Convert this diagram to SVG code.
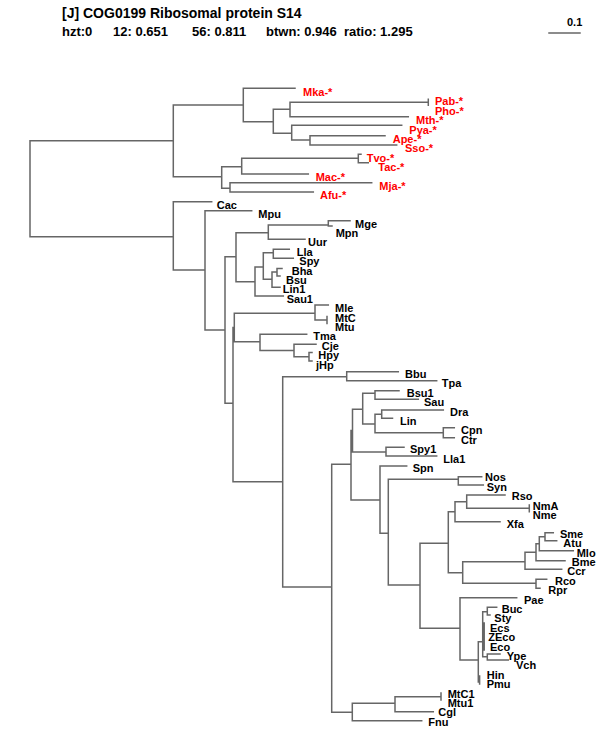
<svg xmlns="http://www.w3.org/2000/svg" width="600" height="750" viewBox="0 0 600 750">
<style>
.e{stroke:#666;stroke-width:1.5;fill:none;stroke-linecap:square}
.t{font-family:"Liberation Sans",Arial,sans-serif;font-weight:bold;fill:#000}
.l{font-family:"Liberation Sans",Arial,sans-serif;font-weight:bold;font-size:11px;fill:#000}
.r{fill:#f00}
</style>
<rect width="600" height="750" fill="#fff"/>
<g id="header">
<text class="t" x="62" y="18" font-size="14">[J] COG0199 Ribosomal protein S14</text>
<text class="t" x="62" y="36" font-size="13">hzt:0</text>
<text class="t" x="113" y="36" font-size="13">12: 0.651</text>
<text class="t" x="192" y="36" font-size="13">56: 0.811</text>
<text class="t" x="266" y="36" font-size="13">btwn: 0.946</text>
<text class="t" x="344" y="36" font-size="13">ratio: 1.295</text>
</g>
<g id="scale">
<path class="e" d="M549 33 H580" stroke="#000"/>
<text class="l" x="567" y="26">0.1</text>
</g>
<g id="connectors">
<path class="e" d="
M30 140.7 V236.7 M30 140.7 H173.3 M30 236.7 H173.3
M173.3 105 V176.7 M173.3 105 H243.3 M173.3 176.7 H221.7
M243.3 88.3 V121.7 M243.3 88.3 H295 M243.3 121.7 H273.3
M273.3 109.3 V133.3 M273.3 109.3 H290 M273.3 133.3 H291.7
M290 102.3 V116.7 M290 102.3 H428.3 M428.3 99.3 V105.3 M290 116.7 H408.3
M291.7 125.3 V140 M291.7 125.3 H401.7 M291.7 140 H310
M310 135.7 V145 M310 135.7 H385 M310 145 H396.7
M221.7 166.7 V188.3 M221.7 166.7 H241.7 M221.7 188.3 H230
M241.7 158.3 V174 M241.7 158.3 H358.3 M241.7 174 H308.3
M358.3 154.3 V162.7 M358.3 154.3 H361 M358.3 162.7 H368.3
M230 182.7 V192 M230 182.7 H371.7 M230 192 H313.3
M173.3 201.7 V270 M173.3 201.7 H211.7 M173.3 270 H205
M205 210.7 V330 M205 210.7 H251.7 M205 330 H225
M225 256.7 V403.3 M225 256.7 H236 M225 403.3 H233
M236 232.7 V281.7 M236 232.7 H268.3 M236 281.7 H255
M268.3 225 V239.3 M268.3 225 H328.3 M268.3 239.3 H305
M328.3 220.7 V226 M328.3 220.7 H350 M328.3 226 H332
M255 267 V296 M255 267 H263.3 M255 296 H283.3
M263.3 252.7 V279.3 M263.3 252.7 H273.3 M263.3 279.3 H272
M273.3 249.3 V258.3 M273.3 249.3 H289.3 M273.3 258.3 H293.3
M272 272 V287.3 M272 272 H277 M272 287.3 H280
M277 268.5 V276 M277 268.5 H282 M277 276 H280
M233 327.5 V481.7 M233 327.5 H234.3 M233 481.7 H282.7
M234.3 313.3 V341.7 M234.3 313.3 H315 M234.3 341.7 H260
M315 305 V320 M315 305 H328.3 M315 320 H327 M327 316.5 V323.5
M260 334.3 V350.5 M260 334.3 H306.7 M260 350.5 H294
M294 344.3 V356.7 M294 344.3 H316 M294 356.7 H309
M309 352.5 V361 M309 352.5 H312 M309 361 H312
M282.7 376.7 V587 M282.7 376.7 H346.7 M282.7 587 H331.7
M346.7 371.7 V380.7 M346.7 371.7 H398.3 M346.7 380.7 H436.7
M331.7 464.3 V712.3 M331.7 464.3 H351 M331.7 712.3 H352.3
M351 430.5 V500 M351 430.5 H352.5 M351 500 H380
M352.5 409.3 V452 M352.5 409.3 H362.7 M352.5 452 H386
M362.7 393.3 V424 M362.7 393.3 H375 M362.7 424 H375
M375 390.7 V399.3 M375 390.7 H399 M375 399.3 H418.3
M375 414.3 V432.7 M375 414.3 H381.7 M375 432.7 H443.3
M381.7 410 V418.3 M381.7 410 H443.3 M381.7 418.3 H392.5
M443.3 427.7 V437.7 M443.3 427.7 H454.3 M443.3 437.7 H454.3
M386 447.3 V456 M386 447.3 H404 M386 456 H436.7
M380 466 V533.3 M380 466 H406.7 M380 533.3 H388.3
M388.3 479.3 V585 M388.3 479.3 H458.3 M388.3 585 H420
M458.3 476.7 V485 M458.3 476.7 H481.7 M458.3 485 H483.3
M420 543.3 V628.3 M420 543.3 H448.3 M420 628.3 H460
M448.3 511.7 V572.7 M448.3 511.7 H455 M448.3 572.7 H462.7
M455 501.7 V521.7 M455 501.7 H466.7 M455 521.7 H500
M466.7 495 V508.3 M466.7 495 H505 M466.7 508.3 H529.3 M529.3 505 V511.7
M462.7 561.7 V583.3 M462.7 561.7 H525 M462.7 583.3 H536
M525 552.3 V569.3 M525 552.3 H536 M525 569.3 H561.7
M536 543.7 V560.7 M536 543.7 H539.3 M536 560.7 H565
M539.3 536.7 V550.7 M539.3 536.7 H545 M539.3 550.7 H573.3
M545 532.7 V540.7 M545 532.7 H553.3 M545 540.7 H556.7
M536 579.3 V588.3 M536 579.3 H546.7 M536 588.3 H540
M460 597.7 V660 M460 597.7 H516.7 M460 660 H478.3
M478.3 641.7 V682 M478.3 641.7 H482.7 M479.6 676 V684
M482.7 611.7 V656.7 M482.7 611.7 H487.3 M482.7 656.7 H487.3 M484.2 623 V650
M487.3 607.3 V615 M487.3 607.3 H496.7 M487.3 615 H490
M487.3 654 V660 M487.3 654 H500 M487.3 660 H508.3
M352.3 703.3 V720.7 M352.3 703.3 H395 M352.3 720.7 H421.7
M395 696.7 V711.7 M395 696.7 H441 M441 693 V700 M395 711.7 H433.3"/>
</g>
<g id="n-Mka"><text class="l r" x="303" y="96">Mka-*</text></g>
<g id="n-Pab"><text class="l r" x="435" y="105.4">Pab-*</text></g>
<g id="n-Pho"><text class="l r" x="435" y="114.8">Pho-*</text></g>
<g id="n-Mth"><text class="l r" x="416" y="124.2">Mth-*</text></g>
<g id="n-Pya"><text class="l r" x="409.3" y="133.6">Pya-*</text></g>
<g id="n-Ape"><text class="l r" x="392.7" y="143">Ape-*</text></g>
<g id="n-Sso"><text class="l r" x="405" y="152.4">Sso-*</text></g>
<g id="n-Tvo"><text class="l r" x="366.7" y="161.8">Tvo-*</text></g>
<g id="n-Tac"><text class="l r" x="378.3" y="171.2">Tac-*</text></g>
<g id="n-Mac"><text class="l r" x="315.7" y="180.6">Mac-*</text></g>
<g id="n-Mja"><text class="l r" x="379.3" y="190">Mja-*</text></g>
<g id="n-Afu"><text class="l r" x="320" y="199.4">Afu-*</text></g>
<g id="n-Cac"><text class="l" x="216.7" y="208.8">Cac</text></g>
<g id="n-Mpu"><text class="l" x="258.3" y="218.2">Mpu</text></g>
<g id="n-Mge"><text class="l" x="355" y="227.6">Mge</text></g>
<g id="n-Mpn"><text class="l" x="335.7" y="237">Mpn</text></g>
<g id="n-Uur"><text class="l" x="308" y="246.4">Uur</text></g>
<g id="n-Lla"><text class="l" x="296.7" y="255.8">Lla</text></g>
<g id="n-Spy"><text class="l" x="299.3" y="265.2">Spy</text></g>
<g id="n-Bha"><text class="l" x="291.7" y="274.6">Bha</text></g>
<g id="n-Bsu"><text class="l" x="286" y="284">Bsu</text></g>
<g id="n-Lin1"><text class="l" x="282.7" y="293.4">Lin1</text></g>
<g id="n-Sau1"><text class="l" x="286.7" y="302.8">Sau1</text></g>
<g id="n-Mle"><text class="l" x="335" y="312.2">Mle</text></g>
<g id="n-MtC"><text class="l" x="335" y="321.6">MtC</text></g>
<g id="n-Mtu"><text class="l" x="335" y="331">Mtu</text></g>
<g id="n-Tma"><text class="l" x="313.3" y="340.4">Tma</text></g>
<g id="n-Cje"><text class="l" x="321.7" y="349.8">Cje</text></g>
<g id="n-Hpy"><text class="l" x="318.3" y="359.2">Hpy</text></g>
<g id="n-jHp"><text class="l" x="316" y="368.6">jHp</text></g>
<g id="n-Bbu"><text class="l" x="405" y="378">Bbu</text></g>
<g id="n-Tpa"><text class="l" x="441.7" y="387.4">Tpa</text></g>
<g id="n-Bsu1"><text class="l" x="406.7" y="396.8">Bsu1</text></g>
<g id="n-Sau"><text class="l" x="424" y="406.2">Sau</text></g>
<g id="n-Dra"><text class="l" x="450" y="415.6">Dra</text></g>
<g id="n-Lin"><text class="l" x="400" y="425">Lin</text></g>
<g id="n-Cpn"><text class="l" x="461" y="434.4">Cpn</text></g>
<g id="n-Ctr"><text class="l" x="461" y="443.8">Ctr</text></g>
<g id="n-Spy1"><text class="l" x="410" y="453.2">Spy1</text></g>
<g id="n-Lla1"><text class="l" x="443.3" y="462.6">Lla1</text></g>
<g id="n-Spn"><text class="l" x="412.7" y="472">Spn</text></g>
<g id="n-Nos"><text class="l" x="485" y="481.4">Nos</text></g>
<g id="n-Syn"><text class="l" x="486.7" y="490.8">Syn</text></g>
<g id="n-Rso"><text class="l" x="511.7" y="500.2">Rso</text></g>
<g id="n-NmA"><text class="l" x="532.7" y="509.6">NmA</text></g>
<g id="n-Nme"><text class="l" x="532.7" y="519">Nme</text></g>
<g id="n-Xfa"><text class="l" x="506.7" y="528.4">Xfa</text></g>
<g id="n-Sme"><text class="l" x="560" y="537.8">Sme</text></g>
<g id="n-Atu"><text class="l" x="563.3" y="547.2">Atu</text></g>
<g id="n-Mlo"><text class="l" x="576.7" y="556.6">Mlo</text></g>
<g id="n-Bme"><text class="l" x="571.7" y="566">Bme</text></g>
<g id="n-Ccr"><text class="l" x="567.3" y="575.4">Ccr</text></g>
<g id="n-Rco"><text class="l" x="555" y="584.8">Rco</text></g>
<g id="n-Rpr"><text class="l" x="548.3" y="594.2">Rpr</text></g>
<g id="n-Pae"><text class="l" x="524" y="603.6">Pae</text></g>
<g id="n-Buc"><text class="l" x="501.7" y="613">Buc</text></g>
<g id="n-Sty"><text class="l" x="494.3" y="622.4">Sty</text></g>
<g id="n-Ecs"><text class="l" x="490" y="631.8">Ecs</text></g>
<g id="n-ZEco"><text class="l" x="488.3" y="641.2">ZEco</text></g>
<g id="n-Eco"><text class="l" x="490" y="650.6">Eco</text></g>
<g id="n-Ype"><text class="l" x="506.7" y="660">Ype</text></g>
<g id="n-Vch"><text class="l" x="516" y="669.4">Vch</text></g>
<g id="n-Hin"><text class="l" x="486.7" y="678.8">Hin</text></g>
<g id="n-Pmu"><text class="l" x="486.7" y="688.2">Pmu</text></g>
<g id="n-MtC1"><text class="l" x="447.7" y="697.6">MtC1</text></g>
<g id="n-Mtu1"><text class="l" x="447.7" y="707">Mtu1</text></g>
<g id="n-Cgl"><text class="l" x="438.3" y="716.4">Cgl</text></g>
<g id="n-Fnu"><text class="l" x="428.3" y="725.8">Fnu</text></g>
</svg>
